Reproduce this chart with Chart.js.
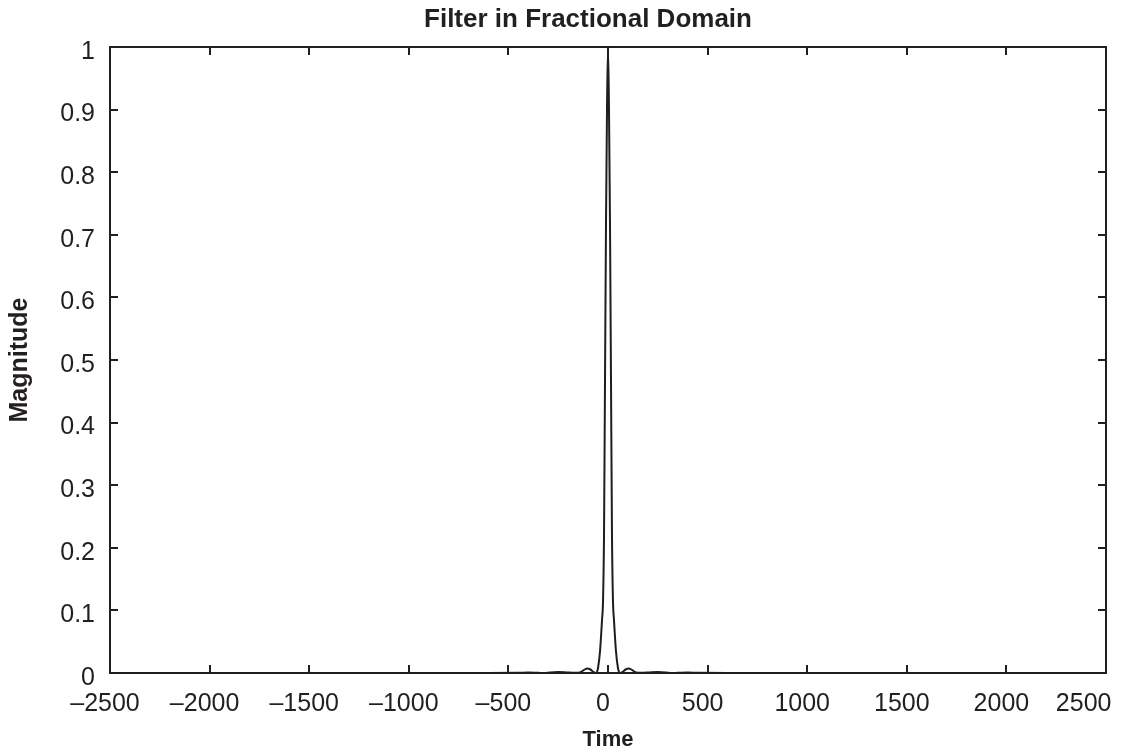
<!DOCTYPE html>
<html>
<head>
<meta charset="utf-8">
<script src="https://cdn.jsdelivr.net/npm/chart.js@4.4.0/dist/chart.umd.min.js"></script>
<style>
  html, body { margin: 0; padding: 0; background: #fff; }
  #wrap { width: 1122px; height: 755px; }
</style>
</head>
<body>
<div id="wrap"><canvas id="mycanvas"></canvas></div>
<script>
// values
var time = [-2500, -600, -450, -400, -350, -320, -290, -250, -210, -170, -140, -120, -105, -90, -75, -60,
	-55, -50, -40, -30, -25, -20, -15, -10, -5, 0, 5, 10, 15, 20, 25, 30, 40, 50, 55,
	60, 75, 90, 105, 120, 140, 170, 210, 250, 290, 320, 350, 400, 450, 600, 2500];
var magnitude = [0, 0, 0.0003, 0.0007, 0.0003, 0, 0.001, 0.0015, 0.001, 0.0002, 0.001, 0.005, 0.007, 0.006, 0.002, 0,
	0.002, 0.008, 0.035, 0.085, 0.115, 0.22, 0.47, 0.72, 0.9, 1, 0.9, 0.72, 0.47, 0.22, 0.115, 0.085, 0.035, 0.008, 0.002,
	0, 0.002, 0.006, 0.007, 0.005, 0.001, 0.0002, 0.001, 0.0015, 0.001, 0, 0.0003, 0.0007, 0.0003, 0, 0];
var xTicks = [-2500, -2000, -1500, -1000, -500, 0, 500, 1000, 1500, 2000, 2500];
var yTicks = [0, 0.1, 0.2, 0.3, 0.4, 0.5, 0.6, 0.7, 0.8, 0.9, 1];

var ink = '#231f20';
var fontFam = "'Liberation Sans', Arial, Helvetica, sans-serif";

var points = [];
for (var i in time) {
	points.push({x: time[i], y: magnitude[i]});
}

function fixSize(w, h) {
	return function(scale) {
		if (w !== null) scale.width = w;
		if (h !== null) scale.height = h;
		scale.paddingLeft = 0;
		scale.paddingRight = 0;
		scale.paddingTop = 0;
		scale.paddingBottom = 0;
	};
}

var frameGrid = {
	drawOnChartArea: false,
	drawTicks: true,
	tickLength: -8,
	color: ink,
	lineWidth: 2
};
var frameBorder = { color: ink, width: 2 };

// title sits a bit left of the plot centre, as in the original
var titlePlugin = {
	id: 'plotTitle',
	afterDraw: function(chart) {
		var ctx = chart.ctx;
		ctx.save();
		ctx.fillStyle = ink;
		ctx.font = 'bold 26px ' + fontFam;
		ctx.textAlign = 'center';
		ctx.textBaseline = 'middle';
		ctx.fillText('Filter in Fractional Domain', 588, 20);
		ctx.restore();
	}
};

var ctx = document.getElementById('mycanvas');

var chart = new Chart(ctx, {
	type: 'line',
	data: {
		datasets: [
			{
				data: points,
				borderColor: '#1e1e1e',
				borderWidth: 2,
				pointRadius: 0,
				fill: false,
				cubicInterpolationMode: 'monotone'
			}
		]
	},
	options: {
		responsive: true,
		maintainAspectRatio: false,
		animation: false,
		layout: { padding: 0 },
		plugins: {
			legend: { display: false },
			tooltip: { enabled: false },
			title: { display: false }
		},
		scales: {
			x: {
				type: 'linear',
				position: 'bottom',
				min: -2500,
				max: 2500,
				afterBuildTicks: function(scale) {
					scale.ticks = xTicks.map(function(v) { return {value: v}; });
				},
				afterFit: fixSize(null, 82),
				grid: frameGrid,
				border: frameBorder,
				ticks: {
					color: ink,
					font: { family: fontFam, size: 25 },
					padding: 24,
					maxRotation: 0,
					autoSkip: false,
					labelOffset: -5,
					callback: function(v) {
						var s = String(v).replace('-', '\u2013');
						if (v === 2500) s = s + '     ';
						return s;
					}
				},
				title: {
					display: true,
					text: 'Time',
					color: ink,
					font: { family: fontFam, size: 22, weight: 'bold' },
					padding: { top: 0, bottom: 2 }
				}
			},
			x2: {
				type: 'linear',
				position: 'top',
				min: -2500,
				max: 2500,
				afterBuildTicks: function(scale) {
					scale.ticks = xTicks.map(function(v) { return {value: v}; });
				},
				afterFit: fixSize(null, 47),
				grid: frameGrid,
				border: frameBorder,
				ticks: { display: false }
			},
			y: {
				type: 'linear',
				position: 'left',
				min: 0,
				max: 1,
				afterBuildTicks: function(scale) {
					scale.ticks = yTicks.map(function(v) { return {value: v}; });
				},
				afterFit: fixSize(110, null),
				grid: frameGrid,
				border: frameBorder,
				ticks: {
					color: ink,
					font: { family: fontFam, size: 25 },
					padding: 23,
					labelOffset: 5,
					callback: function(v) { return String(Math.round(v * 10) / 10); }
				},
				title: {
					display: true,
					text: 'Magnitude',
					color: ink,
					font: { family: fontFam, size: 25, weight: 'bold' },
					padding: { top: 5, bottom: 0 }
				}
			},
			y2: {
				type: 'linear',
				position: 'right',
				min: 0,
				max: 1,
				afterBuildTicks: function(scale) {
					scale.ticks = yTicks.map(function(v) { return {value: v}; });
				},
				afterFit: fixSize(16, null),
				grid: frameGrid,
				border: frameBorder,
				ticks: { display: false }
			}
		}
	},
	plugins: [titlePlugin]
});
</script>
</body>
</html>
